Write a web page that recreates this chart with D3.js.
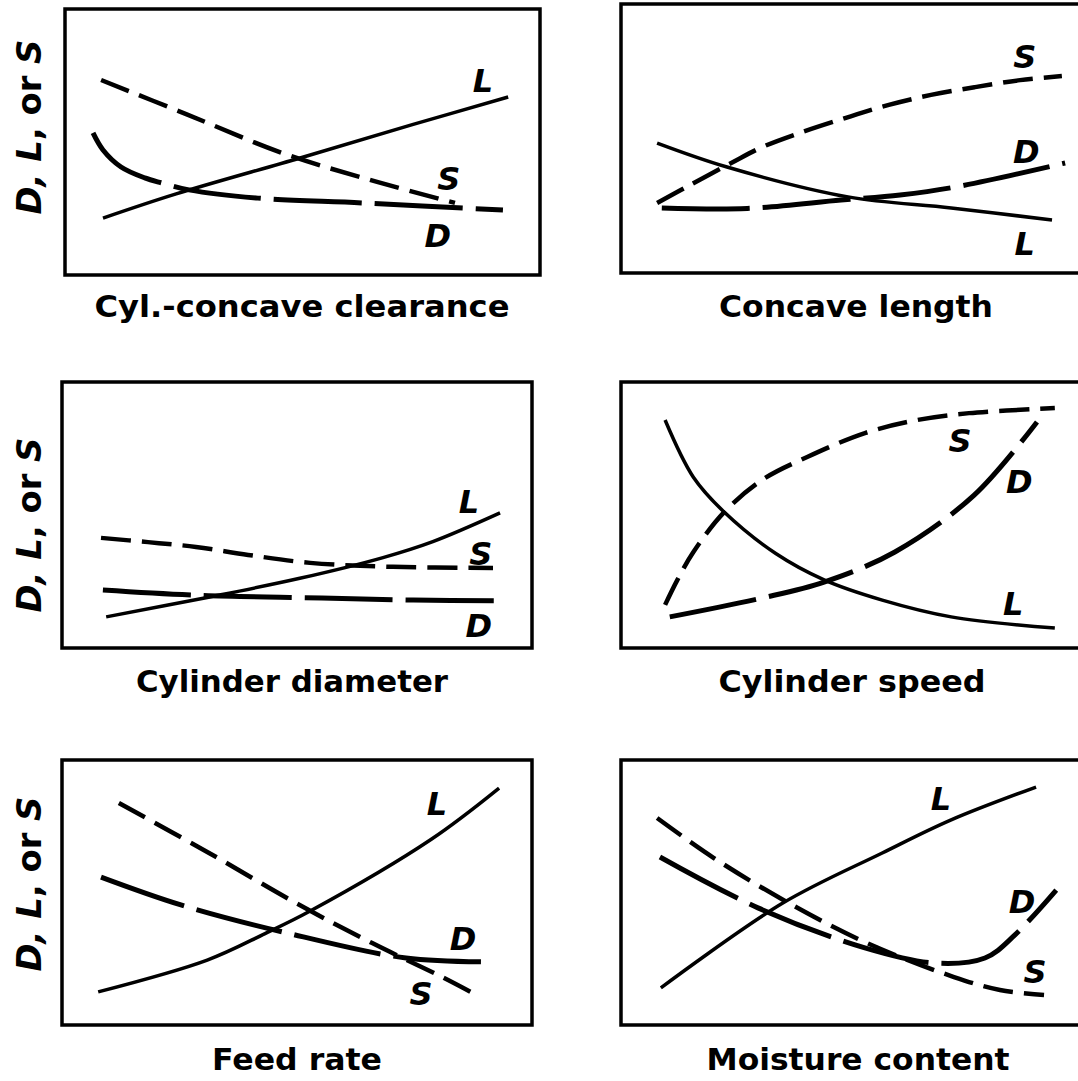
<!DOCTYPE html>
<html>
<head>
<meta charset="utf-8">
<script src="https://cdn.jsdelivr.net/npm/d3@7"></script>
<style>
  body { margin: 0; background: #fff; }
  svg { display: block; }
</style>
</head>
<body>
<div id="chart"></div>
<script>
// every panel is unscaled: both axes run 0..10
var titles = ["Cyl.-concave clearance", "Concave length", "Cylinder diameter",
              "Cylinder speed", "Feed rate", "Moisture content"];
var yTitle = ["D", ", ", "L", ", or ", "S"];

var clearanceL = [[0.80,2.14],[2.34,3.05],[4.95,4.40],[7.33,5.66],[9.33,6.69]];
var clearanceS = [[0.76,7.33],[2.55,6.05],[4.57,4.59],[6.57,3.50],[8.21,2.71]];
var clearanceD = [[0.59,5.34],[0.80,4.70],[1.18,4.06],[1.68,3.65],[2.04,3.46],[2.61,3.20],[4.06,2.89],[6.25,2.71],[9.22,2.44]];

var lengthL = [[0.77,4.83],[2.26,3.94],[4.84,2.83],[7.04,2.42],[9.19,1.97]];
var lengthS = [[0.77,2.60],[1.47,3.27],[2.35,4.09],[3.01,4.68],[3.80,5.20],[4.78,5.76],[5.71,6.25],[6.61,6.62],[7.55,6.91],[8.51,7.17],[9.40,7.32]];
var lengthD = [[0.87,2.42],[2.69,2.40],[4.69,2.71],[5.95,2.90],[7.14,3.20],[9.47,4.09]];

var diameterL = [[0.94,1.17],[3.09,1.90],[5.06,2.62],[6.83,3.40],[7.89,4.00],[9.32,5.08]];
var diameterS = [[0.83,4.14],[1.83,3.98],[2.85,3.80],[3.96,3.50],[5.28,3.20],[7.04,3.05],[9.17,3.01]];
var diameterD = [[0.87,2.18],[2.79,1.99],[5.53,1.88],[7.47,1.80],[9.43,1.77]];

var speedL = [[0.94,8.57],[1.54,6.43],[2.20,5.11],[3.30,3.55],[4.33,2.56],[5.57,1.80],[7.04,1.17],[9.25,0.75]];
var speedS = [[0.94,1.62],[1.20,2.55],[1.54,3.60],[2.20,5.11],[3.01,6.32],[3.97,7.18],[5.20,8.08],[6.31,8.57],[7.42,8.83],[9.25,9.02]];
var speedD = [[1.04,1.17],[3.01,1.88],[4.33,2.48],[5.84,3.61],[7.53,5.75],[8.87,8.50]];

var feedL = [[0.77,1.25],[3.09,2.45],[4.32,3.45],[5.28,4.30],[7.85,7.00],[9.30,8.94]];
var feedS = [[1.21,8.38],[3.09,6.53],[4.98,4.60],[6.60,3.09],[8.13,1.77],[8.89,1.06]];
var feedD = [[0.83,5.58],[2.53,4.53],[4.79,3.47],[7.32,2.53],[9.17,2.38]];

var moistureL = [[0.85,1.40],[3.45,4.60],[5.57,6.49],[7.04,7.74],[8.85,8.98]];
var moistureS = [[0.77,7.81],[1.98,6.30],[3.58,4.60],[5.20,3.13],[7.10,1.81],[8.08,1.32],[9.02,1.13]];
var moistureD = [[0.83,6.34],[2.92,4.42],[5.20,2.91],[6.67,2.34],[7.76,2.53],[8.40,3.40],[9.28,5.09]];

// curve letters: [letter, x, y of baseline]
var clearanceTags = [["L",8.80,6.88],["S",8.08,3.20],["D",7.85,1.05]];
var lengthTags    = [["S",8.61,7.62],["D",8.64,4.09],["L",8.61,0.67]];
var diameterTags  = [["L",8.66,5.08],["S",8.91,3.12],["D",8.87,0.41]];
var speedTags     = [["S",7.23,7.37],["D",8.49,5.83],["L",8.36,1.24]];
var feedTags      = [["L",7.98,7.92],["D",8.53,2.83],["S",7.64,0.75]];
var moistureTags  = [["L",6.82,8.11],["D",8.55,4.23],["S",8.83,1.58]];

var series = [
  [clearanceL, clearanceS, clearanceD],
  [lengthL, lengthS, lengthD],
  [diameterL, diameterS, diameterD],
  [speedL, speedS, speedD],
  [feedL, feedS, feedD],
  [moistureL, moistureS, moistureD]
];
var tags = [clearanceTags, lengthTags, diameterTags, speedTags, feedTags, moistureTags];

// frame boxes and title placement (pixels)
var frames = [
  {x0: 65,  x1: 540,  y0: 9,   y1: 275,  tx: 302, ty: 317,  tl: 415, ylab: 127},
  {x0: 621, x1: 1090, y0: 4,   y1: 273,  tx: 856, ty: 317,  tl: 274},
  {x0: 62,  x1: 532,  y0: 382, y1: 648,  tx: 292, ty: 692,  tl: 312, ylab: 525},
  {x0: 621, x1: 1090, y0: 382, y1: 648,  tx: 852, ty: 692,  tl: 267},
  {x0: 62,  x1: 532,  y0: 760, y1: 1025, tx: 297, ty: 1070, tl: 170, ylab: 884},
  {x0: 621, x1: 1090, y0: 760, y1: 1025, tx: 858, ty: 1070, tl: 303}
];

var lineStyles = [
  {width: 3.5, dash: null},      // L
  {width: 4.5, dash: "30,11"},   // S
  {width: 5,   dash: "88,13"}    // D
];

var svg = d3.select("#chart").append("svg")
  .attr("width", 1078)
  .attr("height", 1081);

svg.append("rect").attr("width", 1078).attr("height", 1081).attr("fill", "#fff");

frames.forEach(function(f, i) {
  var x = d3.scaleLinear().domain([0, 10]).range([f.x0, f.x1]);
  var y = d3.scaleLinear().domain([0, 10]).range([f.y1, f.y0]);
  var line = d3.line()
    .x(function(d) { return x(d[0]); })
    .y(function(d) { return y(d[1]); })
    .curve(d3.curveCatmullRom.alpha(0.5));

  var g = svg.append("g");

  g.append("rect")
    .attr("x", f.x0).attr("y", f.y0)
    .attr("width", f.x1 - f.x0).attr("height", f.y1 - f.y0)
    .attr("fill", "none")
    .attr("stroke", "#000")
    .attr("stroke-width", 3.5);

  g.selectAll(".curve").data(series[i]).enter().append("path")
    .attr("class", "curve")
    .attr("d", line)
    .attr("fill", "none")
    .attr("stroke", "#000")
    .attr("stroke-width", function(d, j) { return lineStyles[j].width; })
    .attr("stroke-dasharray", function(d, j) { return lineStyles[j].dash; })
    .attr("stroke-linejoin", "round");

  g.selectAll(".tag").data(tags[i]).enter().append("text")
    .attr("class", "tag")
    .attr("x", function(d) { return x(d[1]); })
    .attr("y", function(d) { return y(d[2]); })
    .attr("text-anchor", "middle")
    .style("font-family", "DejaVu Sans")
    .style("font-weight", "bold")
    .style("font-style", "italic")
    .style("font-size", "32px")
    .text(function(d) { return d[0]; });

  g.append("text")
    .attr("x", f.tx).attr("y", f.ty)
    .attr("text-anchor", "middle")
    .attr("textLength", f.tl)
    .attr("lengthAdjust", "spacingAndGlyphs")
    .style("font-family", "DejaVu Sans")
    .style("font-weight", "bold")
    .style("font-size", "30px")
    .text(titles[i]);

  if (f.ylab) {
    var t = g.append("text")
      .attr("transform", "translate(41," + f.ylab + ") rotate(-90)")
      .attr("text-anchor", "middle")
      .attr("textLength", 175)
      .attr("lengthAdjust", "spacingAndGlyphs")
      .style("font-family", "DejaVu Sans")
      .style("font-weight", "bold")
      .style("font-size", "33px");
    t.selectAll("tspan").data(yTitle).enter().append("tspan")
      .style("font-style", function(d) { return d.trim().length === 1 && d !== "," ? "italic" : "normal"; })
      .text(function(d) { return d; });
  }
});
</script>
</body>
</html>
